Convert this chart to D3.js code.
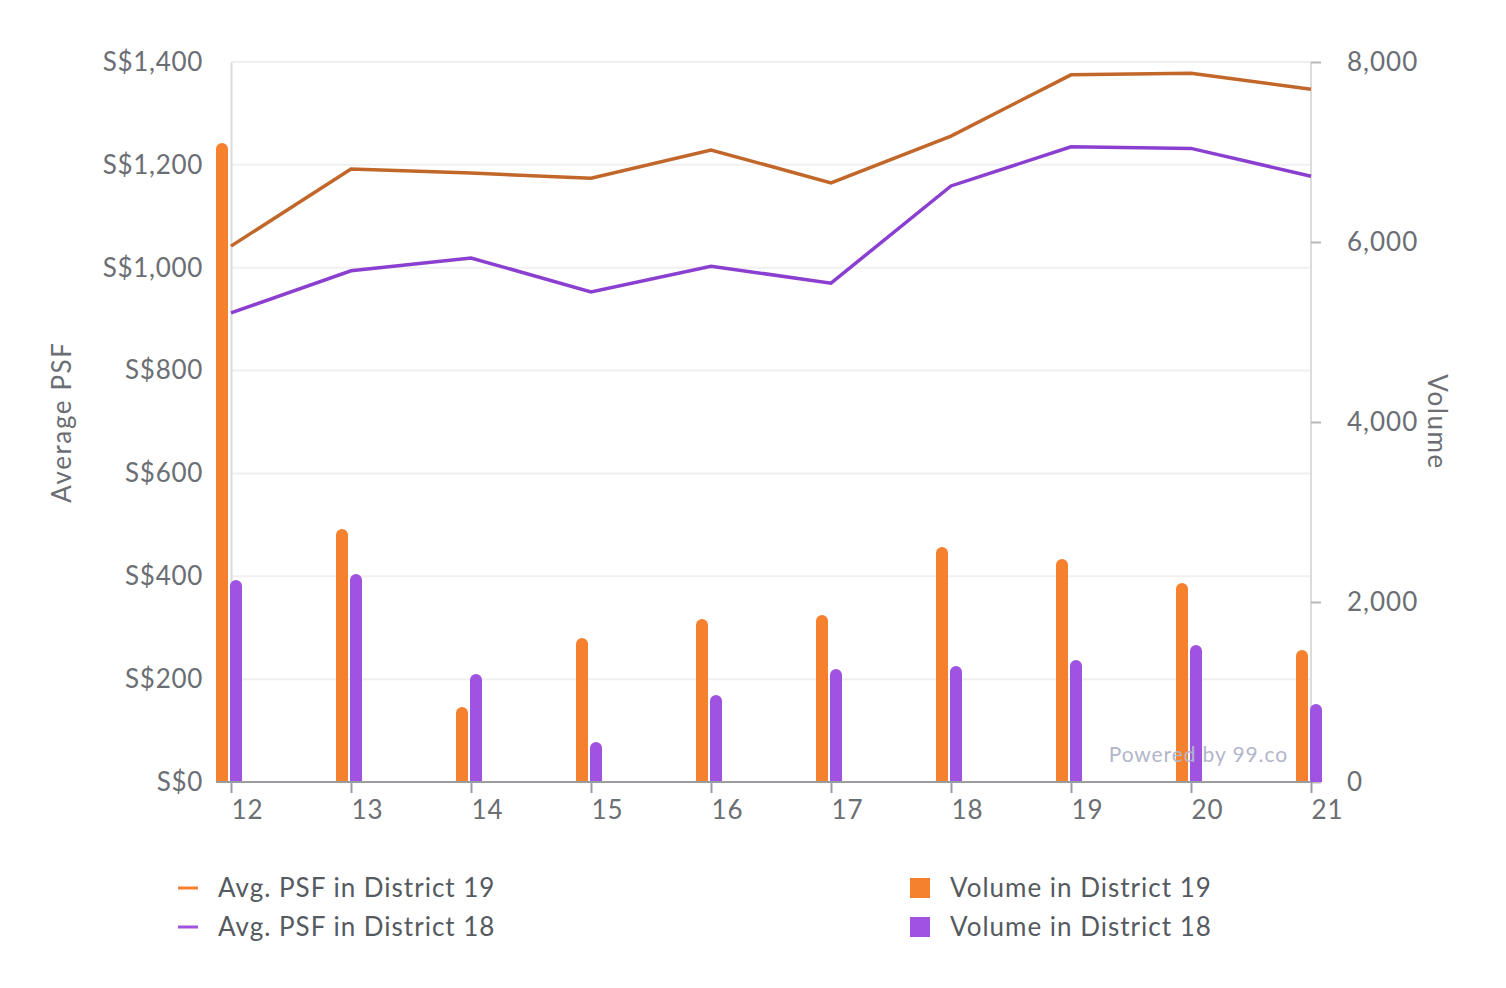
<!DOCTYPE html>
<html><head><meta charset="utf-8">
<script src="https://cdn.jsdelivr.net/npm/d3@7"></script>
<style>body{margin:0;background:#fff;} svg{display:block;font-family:Lato,"Open Sans",sans-serif;}</style>
</head><body>
<svg id="c" width="1506" height="988"></svg>
<script>
const categories = ["12","13","14","15","16","17","18","19","20","21"];
const psfD19 = [1042,1192,1184,1174,1229,1165,1256,1375,1378,1347];
const psfD18 = [912,994,1019,953,1003,970,1159,1235,1232,1178];
const volD19 = [7100,2811,833,1600,1811,1856,2611,2478,2211,1467];
const volD18 = [2244,2311,1200,444,967,1256,1289,1356,1522,867];
const psfTicks = [0,200,400,600,800,1000,1200,1400];
const volTicks = [0,2000,4000,6000,8000];

const svg = d3.select("#c");
const L=231,R=1311,T=62,B=782;
const x = d3.scalePoint().domain(categories).range([L,R]);
const yL = d3.scaleLinear().domain([0,1400]).range([B,T]);
const yR = d3.scaleLinear().domain([0,8000]).range([B,T]);
const textCol="#6b6e73";

// gridlines
svg.append("g").selectAll("line").data(psfTicks).join("line")
  .attr("x1",L).attr("x2",R).attr("y1",d=>yL(d)).attr("y2",d=>yL(d))
  .attr("stroke","#f0f0f0").attr("stroke-width",2);

// left axis
const gl = svg.append("g").attr("transform",`translate(${L},0)`)
  .call(d3.axisLeft(yL).tickValues(psfTicks).tickSize(0).tickPadding(28).tickFormat(d=>"S$"+d3.format(",")(d)));
gl.select(".domain").attr("stroke","#dcdcdc").attr("stroke-width",2);
gl.selectAll("text").attr("fill",textCol).attr("font-size",26).attr("font-family","Lato").attr("letter-spacing",0.7);

// right axis
const gr = svg.append("g").attr("transform",`translate(${R},0)`)
  .call(d3.axisRight(yR).tickValues(volTicks).tickSize(10).tickPadding(26).tickFormat(d3.format(",")));
gr.select(".domain").attr("stroke","#dcdcdc").attr("stroke-width",2).attr("d",`M0,${T}V${B}`);
gr.selectAll(".tick line").attr("stroke","#b8b8b8").attr("stroke-width",2);
gr.selectAll("text").attr("fill",textCol).attr("font-size",26).attr("font-family","Lato").attr("letter-spacing",1);

// bars
function barPath(x0,w,y0,yb){
  const r=w/2;
  return `M${x0},${yb}V${y0+r}A${r},${r} 0 0 1 ${x0+w},${y0+r}V${yb}Z`;
}
const bw=12;
svg.append("g").selectAll("path").data(categories).join("path")
  .attr("d",(c,i)=>barPath(x(c)-15,bw,yR(volD19[i]),B)).attr("fill","#f5812f");
svg.append("g").selectAll("path").data(categories).join("path")
  .attr("d",(c,i)=>barPath(x(c)-1,bw,yR(volD18[i]),B)).attr("fill","#a052e0");

// bottom axis
const gb = svg.append("g").attr("transform",`translate(0,${B})`)
  .call(d3.axisBottom(x).tickSize(11).tickPadding(4));
gb.select(".domain").attr("stroke","#999ca0").attr("stroke-width",2).attr("d",`M${L-15},0H${R}`);
gb.selectAll(".tick line").attr("stroke","#999ca0").attr("stroke-width",2);
gb.selectAll(".tick text").attr("fill",textCol).attr("font-size",26).attr("font-family","Lato")
  .attr("letter-spacing",1).attr("dx",16).attr("y",0).attr("dy",0)
  .attr("transform","translate(0,37)");

// lines
const line = d3.line().x((d,i)=>x(categories[i]));
svg.append("path").datum(psfD19).attr("d",line.y(d=>yL(d))).attr("fill","none")
  .attr("stroke","#c2672a").attr("stroke-width",3.5);
svg.append("path").datum(psfD18).attr("d",line.y(d=>yL(d))).attr("fill","none")
  .attr("stroke","#8b3fd0").attr("stroke-width",3.5);

// axis titles
svg.append("text").attr("transform",`translate(71,422) rotate(-90)`).attr("text-anchor","middle")
  .attr("fill",textCol).attr("font-size",26).attr("letter-spacing",1.6).text("Average PSF");
svg.append("text").attr("transform",`translate(1428,422) rotate(90)`).attr("text-anchor","middle")
  .attr("fill",textCol).attr("font-size",26).attr("letter-spacing",1.6).text("Volume");

// watermark
svg.append("text").attr("x",1288).attr("y",762).attr("text-anchor","end")
  .attr("fill","#b3b5c9").attr("font-size",21).attr("letter-spacing",0.9).text("Powered by 99.co");

// legend
const leg = [
  {t:"Avg. PSF in District 19",c:"#f5812f",type:"line",x:178,y:888},
  {t:"Avg. PSF in District 18",c:"#a052e0",type:"line",x:178,y:927},
  {t:"Volume in District 19",c:"#f5812f",type:"rect",x:910,y:888},
  {t:"Volume in District 18",c:"#a052e0",type:"rect",x:910,y:927}
];
const lg = svg.append("g");
leg.forEach(d=>{
  if(d.type==="line") lg.append("rect").attr("x",d.x).attr("y",d.y-1.5).attr("width",20).attr("height",3).attr("fill",d.c);
  else lg.append("rect").attr("x",d.x).attr("y",d.y-10).attr("width",20).attr("height",20).attr("fill",d.c);
  lg.append("text").attr("x",d.x+40).attr("y",d.y+9).attr("fill","#555a60").attr("font-size",26)
    .attr("letter-spacing",1).text(d.t);
});
</script>
</body></html>
